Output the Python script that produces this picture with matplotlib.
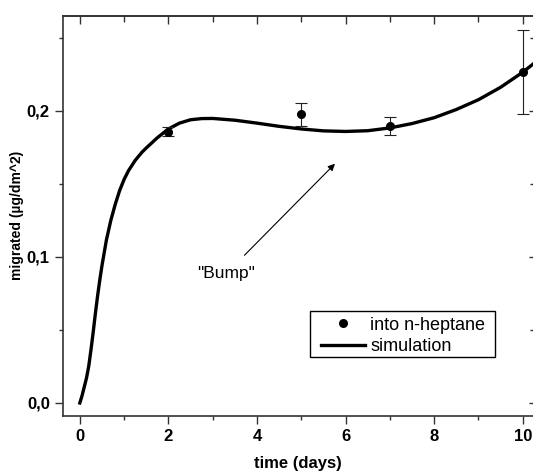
import matplotlib
matplotlib.use('Agg')
import matplotlib.pyplot as plt
from matplotlib.ticker import MultipleLocator
from matplotlib.lines import Line2D
from matplotlib.patches import Rectangle

plt.rcParams['font.family'] = ['Liberation Sans', 'DejaVu Sans']

# Measured data (into n-heptane)
days = [2, 5, 7, 10]
migrated = [0.1856, 0.1974, 0.1897, 0.2263]
errors = [0.003, 0.008, 0.006, 0.0286]

# Simulation curve
sim_days = [0, 0.05, 0.1, 0.15, 0.2, 0.25, 0.3, 0.35, 0.4, 0.45, 0.5, 0.6,
            0.7, 0.8, 0.9, 1.0, 1.1, 1.25, 1.4, 1.5, 1.75, 2.0, 2.25, 2.5,
            2.75, 3.0, 3.5, 4.0, 4.5, 5.0, 5.5, 6.0, 6.5, 7.0, 7.5, 8.0, 8.5,
            9.0, 9.5, 10.0, 10.3]
sim_values = [0.0, 0.005, 0.011, 0.017, 0.025, 0.036, 0.048, 0.061, 0.073,
              0.084, 0.094, 0.1115, 0.125, 0.136, 0.1455, 0.153, 0.159, 0.166,
              0.1715, 0.1745, 0.1815, 0.1875, 0.1915, 0.1938, 0.1946, 0.1947,
              0.1935, 0.1915, 0.1893, 0.1875, 0.1862, 0.1858, 0.1863, 0.1882,
              0.1912, 0.1952, 0.2008, 0.2075, 0.2160, 0.2263, 0.2335]

xticks = [0, 2, 4, 6, 8, 10]
yticks = [0.0, 0.1, 0.2]
yticklabels = ['0,0', '0,1', '0,2']

fig = plt.figure(figsize=(5.33, 4.73), dpi=100)
ax = fig.add_axes([0.1182, 0.1205, 0.8874, 0.8463])

ax.plot(sim_days, sim_values, color='black', lw=2.4, zorder=3,
        solid_joinstyle='round')
ax.errorbar(days, migrated, yerr=errors, fmt='o', color='black', ms=5.5,
            ecolor='#222222', elinewidth=0.8, capsize=4, capthick=0.8, zorder=4)

ax.set_xlim(-0.38, 10.3)
ax.set_ylim(-0.0089, 0.265)

ax.set_xticks(xticks)
ax.set_xticklabels([str(t) for t in xticks])
ax.set_yticks(yticks)
ax.set_yticklabels(yticklabels)
ax.xaxis.set_minor_locator(MultipleLocator(1))
ax.yaxis.set_minor_locator(MultipleLocator(0.05))
ax.tick_params(which='major', direction='out', length=6, width=1,
               labelsize=12, color='#333333')
ax.tick_params(which='minor', direction='out', length=3, width=1, color='#333333')
for lab in ax.get_xticklabels() + ax.get_yticklabels():
    lab.set_fontweight('bold')

for sp in ax.spines.values():
    sp.set_color('#333333')
    sp.set_linewidth(1.2)

# inward ticks on top and right
top = ax.secondary_xaxis('top')
top.set_xticks(xticks)
top.set_xticklabels([])
top.xaxis.set_minor_locator(MultipleLocator(1))
top.tick_params(which='major', direction='in', length=6, width=1, color='#333333')
top.tick_params(which='minor', direction='in', length=4, width=1, color='#333333')
top.spines['top'].set_color('#333333')
top.spines['top'].set_linewidth(1.2)

right = ax.secondary_yaxis('right')
right.set_yticks(yticks)
right.set_yticklabels([])
right.yaxis.set_minor_locator(MultipleLocator(0.05))
right.tick_params(which='major', direction='in', length=5, width=1, color='#333333')
right.tick_params(which='minor', direction='in', length=4, width=1, color='#333333')

ax.set_xlabel('time (days)', fontsize=12, fontweight='bold', va='center')
ax.xaxis.set_label_coords(0.497, -0.1175)
ax.set_ylabel('migrated (µg/dm^2)', fontsize=10, fontweight='bold', va='center')
ax.yaxis.set_label_coords(-0.097, 0.5)

ax.annotate('"Bump"', xy=(5.76, 0.1637), xytext=(3.31, 0.0886),
            fontsize=12.5, ha='center', va='center',
            arrowprops=dict(arrowstyle='-|>', color='black', lw=0.8,
                            mutation_scale=10, shrinkA=8, shrinkB=0))

# legend with a hand placed frame
handles = [Line2D([], [], marker='o', color='black', ls='none', ms=5.5),
           Line2D([], [], color='black', lw=2.4)]
leg = ax.legend(handles, ['into n-heptane', 'simulation'], loc='upper left',
                bbox_to_anchor=(0.5455, 0.2485), fontsize=13, frameon=False,
                handlelength=2.45, handletextpad=0.28, borderpad=0,
                labelspacing=0.25, borderaxespad=0)
ax.add_patch(Rectangle((0.5218, 0.1475), 0.3915, 0.115, transform=ax.transAxes,
                       fill=False, edgecolor='black', lw=1.0, zorder=5))

fig.savefig('out.png', dpi=100)
